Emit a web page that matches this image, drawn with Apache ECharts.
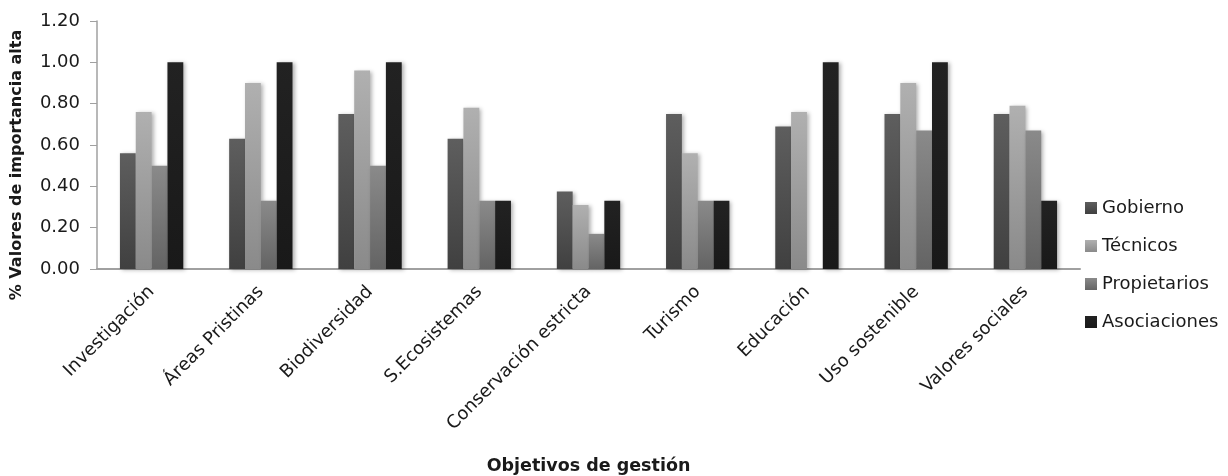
<!DOCTYPE html>
<html>
<head>
<meta charset="utf-8">
<script src="https://cdn.jsdelivr.net/npm/echarts@6/dist/echarts.min.js"></script>
<style>html,body{margin:0;padding:0;background:#fff}#c{width:1228px;height:476px}</style>
</head>
<body>
<div id="c"></div>
<script>
var categories = ['Investigación','Áreas Pristinas','Biodiversidad','S.Ecosistemas','Conservación estricta','Turismo','Educación','Uso sostenible','Valores sociales'];
var gobierno     = [0.56, 0.63, 0.75, 0.63, 0.375, 0.75, 0.69, 0.75, 0.75];
var tecnicos     = [0.76, 0.90, 0.96, 0.78, 0.31, 0.56, 0.76, 0.90, 0.79];
var propietarios = [0.50, 0.33, 0.50, 0.33, 0.17, 0.33, 0, 0.67, 0.67];
var asociaciones = [1.00, 1.00, 1.00, 0.33, 0.33, 0.33, 1.00, 1.00, 0.33];
var seriesNames = ['Gobierno','Técnicos','Propietarios','Asociaciones'];
var yTicks = [0, 0.2, 0.4, 0.6, 0.8, 1.0, 1.2];

function grad(top, bottom){
  return {type:'linear', x:0, y:0, x2:0, y2:1, colorStops:[{offset:0,color:top},{offset:1,color:bottom}]};
}
var fills = [grad('#5e5e5e','#404040'), grad('#b0b0b0','#8a8a8a'), grad('#8a8a8a','#646464'), grad('#222222','#191919')];
var dataArr = [gobierno, tecnicos, propietarios, asociaciones];
var FONT = 'DejaVu Sans, Verdana, sans-serif';
var TXT = '#1a1a1a';

var series = seriesNames.map(function(n,i){
  return {
    name:n, type:'bar', data:dataArr[i], barGap:'0%', barCategoryGap:'42%',
    itemStyle:{color:fills[i], shadowBlur:4, shadowColor:'rgba(0,0,0,0.3)', shadowOffsetX:2, shadowOffsetY:1},
    emphasis:{disabled:true}
  };
});

var chart = echarts.init(document.getElementById('c'));
chart.setOption({
  animation:false,
  grid:{left:97, right:148, top:21, bottom:207, containLabel:false, outerBoundsMode:'none'},
  legend:{
    orient:'vertical', left:1085, top:199, padding:0, itemWidth:12, itemHeight:12, itemGap:20,
    icon:'rect',
    textStyle:{fontFamily:FONT, fontSize:18, lineHeight:18, color:TXT},
    data:seriesNames
  },
  xAxis:{
    type:'category', data:categories,
    axisLine:{lineStyle:{color:'#a0a0a0', width:2}},
    axisTick:{show:false},
    axisLabel:{rotate:45, interval:0, fontFamily:FONT, fontSize:18, color:TXT, margin:20},
    name:'Objetivos de gestión', nameLocation:'middle', nameGap:188,
    nameTextStyle:{fontFamily:FONT, fontSize:17.5, fontWeight:'bold', color:TXT}
  },
  yAxis:{
    type:'value', min:yTicks[0], max:yTicks[yTicks.length-1], interval:0.2,
    axisLine:{show:true, lineStyle:{color:'#a0a0a0', width:1.5}},
    axisTick:{show:true, length:7, lineStyle:{color:'#a0a0a0'}},
    splitLine:{show:false},
    axisLabel:{fontFamily:FONT, fontSize:18, color:TXT, margin:17, formatter:function(v){return v.toFixed(2);}},
    name:'% Valores de importancia alta', nameLocation:'middle', nameGap:72,
    nameTextStyle:{fontFamily:FONT, fontSize:16, fontWeight:'bold', color:TXT, padding:[0,40,0,0]}
  },
  series:series
});
</script>
</body>
</html>
